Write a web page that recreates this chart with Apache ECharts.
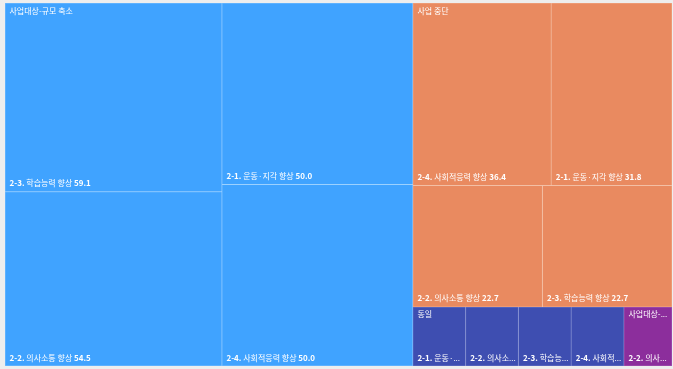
<!DOCTYPE html>
<html>
<head>
<meta charset="utf-8">
<script src="https://cdn.jsdelivr.net/npm/echarts@6/dist/echarts.min.js"></script>
<style>
  html, body { margin: 0; padding: 0; background: #eeeeee; }
  #treeChart { width: 673px; height: 369px; }
</style>
</head>
<body>
<div id="treeChart"></div>
<script>
"use strict";

/*****Data start*****/
var groupNames = ['사업대상-규모 축소', '사업 중단', '동일', '사업대상-규모 확대'];
var itemCodes = ['2-1.', '2-2.', '2-3.', '2-4.'];
var itemNames = ['운동·지각 향상', '의사소통 향상', '학습능력 향상', '사회적응력 향상'];
var reducedValues = [50.0, 54.5, 59.1, 50.0];
var stoppedValues = [31.8, 22.7, 22.7, 36.4];
var sameValues = [4.5, 4.5, 4.5, 4.5];
var expandedValues = [null, 4.1, null, null];
/*****Data end*****/

var groupValues = [reducedValues, stoppedValues, sameValues, expandedValues];
var groupColors = ['#40A3FF', '#E98A60', '#3E4EB1', '#8C2E9C'];
var groupLines = ['#7DC1FF', '#F0AA88', '#6876C6', '#A75CB4'];
var labelFont = "'Noto Sans CJK KR', 'Open Sans', sans-serif";

var richBase = function (spacer) {
	return {
		t: { fontSize: 8, lineHeight: 12, fontFamily: labelFont, color: '#ffffff' },
		s: { fontSize: 1, lineHeight: spacer },
		b: { fontSize: 8, lineHeight: 12, fontWeight: 'bold', fontFamily: labelFont, color: '#ffffff' },
		n: { fontSize: 8, lineHeight: 12, fontFamily: labelFont, color: '#ffffff' }
	};
};

/*****Tree builder start*****/
// boxes: layout of each leaf read back from the first render, keyed "group|item"
var buildTree = function (boxes) {
	var tree = [];
	groupNames.forEach(function (g, gi) {
		var children = [];
		// reverse order so ties keep 2-1, 2-2, ... order after the desc sort
		for (var i = itemCodes.length - 1; i >= 0; i--) {
			var v = groupValues[gi][i];
			if (v == null) continue;
			var item = {
				name: itemCodes[i] + ' ' + itemNames[i],
				value: v,
				itemStyle: { color: groupColors[gi], borderColor: groupLines[gi], borderWidth: 0.5 }
			};
			var box = boxes && boxes[gi + '|' + i];
			if (box) {
				var sp = Math.max(box.h - 1 - (box.first ? 12 : 0) - 12 - 2, 1);
				var tail = box.w < 100
					? '{n|' + itemNames[i] + ' ' + v.toFixed(1) + '}'
					: '{n|' + itemNames[i] + '} {b|' + v.toFixed(1) + '}';
				item.label = {
					formatter: (box.first ? '{t|' + g + '}\n' : '') + '{s| }\n' +
						'{b|' + itemCodes[i] + '} ' + tail,
					rich: richBase(sp)
				};
			}
			children.push(item);
		}
		tree.push({ name: g, children: children, itemStyle: { color: groupColors[gi] } });
	});
	return tree;
};
/*****Tree builder end*****/

var eChart_1 = echarts.init(document.getElementById('treeChart'));
var option1 = {
	backgroundColor: '#eeeeee',
	animation: false,
	series: [
		{
			type: 'treemap',
			left: 5,
			top: 3,
			right: 1,
			bottom: 3,
			roam: false,
			nodeClick: false,
			squareRatio: 1,
			breadcrumb: { show: false },
			data: buildTree(null),
			levels: [
				{ itemStyle: { borderWidth: 0, gapWidth: 0 } },
				{ itemStyle: { borderWidth: 0, gapWidth: 0 }, upperLabel: { show: false } },
				{}
			],
			label: {
				show: true,
				position: 'insideTopLeft',
				padding: [1, 0, 0, 4],
				overflow: 'truncate',
				ellipsis: '...',
				fontFamily: labelFont,
				fontSize: 8,
				color: '#ffffff',
				formatter: ''
			}
		}
	]
};
eChart_1.setOption(option1);

/*****Second pass: place labels at the bottom of each cell*****/
var boxes = {};
var root = eChart_1.getModel().getSeriesByIndex(0).getData().tree.root;
root.children.forEach(function (groupNode) {
	var gi = groupNames.indexOf(groupNode.name);
	var first = null;
	groupNode.children.forEach(function (leaf) {
		var lay = leaf.getLayout();
		if (!first || lay.y < first.getLayout().y - 0.5 ||
			(Math.abs(lay.y - first.getLayout().y) < 0.5 && lay.x < first.getLayout().x)) {
			first = leaf;
		}
	});
	groupNode.children.forEach(function (leaf) {
		var lay = leaf.getLayout();
		var i = itemCodes.indexOf(leaf.name.split(' ')[0]);
		boxes[gi + '|' + i] = {
			w: lay.width,
			h: lay.height - 2 * (lay.borderWidth || 0),
			first: leaf === first
		};
	});
});
eChart_1.setOption({ series: [{ data: buildTree(boxes) }] });
</script>
</body>
</html>
